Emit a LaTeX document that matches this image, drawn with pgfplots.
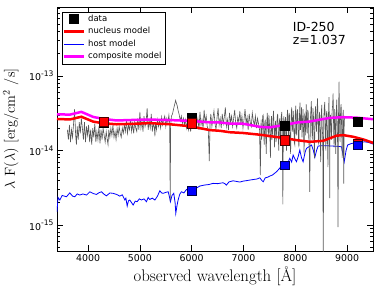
\documentclass[border=0pt]{standalone}
\usepackage{fontspec}
\usepackage{pgfplots}
\pgfplotsset{compat=1.18}
\newfontfamily\dejavu{DejaVu Sans}
\definecolor{specgray}{rgb}{0.34,0.34,0.34}
\definecolor{mag}{rgb}{1,0,1}
\definecolor{pred}{rgb}{1,0,0}
\definecolor{pblue}{rgb}{0,0,1}
\newcommand{\ylab}[1]{10\raisebox{0.85ex}{\fontsize{7.6}{8}\selectfont #1}}
\begin{document}
\begin{tikzpicture}
\useasboundingbox (-57pt,-36pt) rectangle (326pt,251pt);
\begin{axis}[
  at={(0pt,0pt)}, anchor=south west,
  scale only axis, width=316pt, height=244pt,
  xmin=3400, xmax=9500, ymode=log, ymin=0.045, ymax=84,
  xtick={4000,5000,6000,7000,8000,9000},
  xticklabels={4000,5000,6000,7000,8000,9000},
  tick label style={font=\dejavu\fontsize{9.4}{10}\selectfont},
  ytick={0.1,1,10},
  yticklabels={\ylab{-15},\ylab{-14},\ylab{-13}},
  minor ytick={0.05,0.06,0.07,0.08,0.09,0.2,0.3,0.4,0.5,0.6,0.7,0.8,0.9,2,3,4,5,6,7,8,9,20,30,40,50,60,70,80},
  major tick length=6pt, minor tick length=3pt,
  tick style={black, line width=0.6pt},
  axis line style={line width=0.8pt},
  xlabel={observed wavelength [\AA]},
  ylabel={$\lambda$ F($\lambda$) [erg/cm$^{2}$ /s]},
  xlabel style={font=\fontsize{16.8}{18}\selectfont, at={(axis description cs:0.5,-0.123)}, anchor=base},
  ylabel style={font=\fontsize{14.5}{16}\selectfont, at={(axis description cs:-0.133,0.5)}, anchor=base},
  legend style={at={(axis description cs:0.015,0.981)}, anchor=north west, draw=black, line width=0.6pt, fill=white,
    font=\dejavu\fontsize{8.5}{9}\selectfont, inner xsep=0.5pt, inner ysep=1pt, row sep=0pt,
    nodes={inner ysep=2pt, inner xsep=3pt, text height=6.5pt, text depth=2pt}},
  legend cell align=left,
  legend image code/.code={\draw[#1] (0pt,0pt) -- (20pt,0pt);},
]
\addlegendimage{legend image code/.code={\fill[black] (5.4pt,-4.6pt) rectangle (14.6pt,4.6pt);}}
\addlegendentry{data}
\addlegendimage{pred, line width=2.6pt}
\addlegendentry{nucleus model}
\addlegendimage{pblue, line width=0.8pt}
\addlegendentry{host model}
\addlegendimage{mag, line width=2.6pt}
\addlegendentry{composite model}

% host model
\addplot[pblue, line width=0.8pt, forget plot] coordinates {
(3400,0.151)(3420,0.235)(3455,0.217)(3500,0.25)(3583,0.240)(3647,0.271)(3700,0.245)(3743,0.240)(3790,0.262)(3840,0.253)
(3900,0.262)(3970,0.253)(4033,0.280)(4100,0.265)(4162,0.258)(4210,0.272)(4260,0.280)(4300,0.262)(4355,0.247)(4420,0.270)
(4483,0.267)(4550,0.258)(4612,0.245)(4660,0.255)(4710,0.217)(4730,0.230)(4755,0.180)(4780,0.212)(4805,0.217)(4840,0.200)
(4870,0.186)(4910,0.210)(4946,0.206)(4990,0.225)(5030,0.217)(5080,0.225)(5127,0.206)(5160,0.235)(5190,0.221)(5240,0.230)
(5290,0.217)(5340,0.245)(5385,0.289)(5420,0.270)(5450,0.267)(5500,0.275)(5547,0.280)(5570,0.240)(5590,0.206)(5620,0.250)
(5654,0.267)(5680,0.200)(5693,0.144)(5715,0.180)(5738,0.217)(5770,0.260)(5802,0.280)(5850,0.270)(5900,0.301)(5950,0.290)
(6000,0.295)(6080,0.310)(6155,0.334)(6250,0.345)(6330,0.35)(6412,0.363)(6500,0.36)(6606,0.370)(6640,0.36)(6670,0.344)
(6720,0.38)(6800,0.393)(6870,0.385)(6929,0.378)(7000,0.39)(7060,0.395)(7122,0.402)(7200,0.41)(7260,0.415)(7315,0.431)
(7350,0.40)(7380,0.381)(7420,0.43)(7470,0.44)(7508,0.455)(7560,0.47)(7637,0.519)(7700,0.58)(7765,0.673)(7800,0.639)
(7830,0.60)(7870,0.72)(7894,0.786)(7930,0.70)(7958,0.87)(7990,0.78)(8023,0.708)(8060,0.85)(8087,1.015)(8120,0.80)
(8151,0.708)(8190,0.95)(8216,1.07)(8260,1.12)(8313,1.185)(8350,1.0)(8377,0.81)(8410,1.0)(8441,1.15)(8500,1.16)
(8600,1.16)(8700,1.15)(8800,1.14)(8893,1.124)(8920,0.9)(8945,0.708)(8980,1.0)(9010,1.185)(9080,1.24)(9151,1.27)
(9250,1.29)(9344,1.31)(9420,1.28)(9500,1.22)
};

% observed spectrum
\addplot[specgray, line width=0.6pt, forget plot] coordinates {
(3600,1.9)(3620,1.4)(3640,2.2)(3660,1.3)(3680,1.9)(3700,1.5)(3720,2.3)(3740,3.6)(3760,1.6)(3775,1.2)
(3790,2.1)(3810,1.4)(3830,2.4)(3850,1.7)(3870,2.7)(3890,2.0)(3910,1.4)(3930,2.4)(3950,1.3)(3970,2.1)
(3990,1.6)(4010,2.2)(4030,1.3)(4050,1.9)(4070,1.2)(4090,2.0)(4110,1.5)(4130,2.3)(4150,1.3)(4170,1.8)
(4190,1.4)(4210,2.1)(4230,1.25)(4250,1.9)(4270,1.4)(4290,2.0)(4310,1.6)(4330,1.3)(4350,1.8)(4370,1.4)
(4385,1.2)(4400,1.9)(4420,1.5)(4440,2.0)(4460,1.6)(4480,2.2)(4500,1.5)(4520,1.8)(4540,1.4)(4560,2.0)
(4580,1.6)(4600,2.1)(4620,1.7)(4640,1.5)(4660,2.0)(4680,1.7)(4700,2.2)(4720,1.8)(4740,2.5)(4760,1.7)
(4780,2.2)(4800,1.9)(4820,2.6)(4840,1.8)(4860,2.3)(4880,1.7)(4900,2.4)(4920,2.0)(4940,1.8)(4960,2.7)
(4980,1.9)(5000,3.3)(5020,2.0)(5040,2.5)(5060,1.8)(5080,2.9)(5100,2.1)(5120,2.4)(5140,3.7)(5160,1.9)
(5180,2.5)(5200,2.0)(5220,3.1)(5240,1.8)(5260,2.3)(5280,2.0)(5290,1.55)(5300,2.4)(5320,1.9)(5340,2.6)
(5360,2.1)(5380,2.5)(5400,2.0)(5420,2.8)(5440,2.2)(5460,2.6)(5480,2.9)(5500,2.1)(5520,2.7)(5540,2.4)
(5560,3.0)(5575,2.3)(5585,0.21)(5595,2.2)(5610,2.9)(5630,3.1)(5650,3.6)(5670,4.1)(5690,4.7)(5705,4.3)
(5720,4.0)(5740,3.4)(5760,3.0)(5780,2.5)(5800,2.9)(5820,2.3)(5840,2.7)(5860,2.2)(5880,2.6)(5900,2.0)
(5920,2.5)(5940,1.9)(5960,2.4)(5980,1.8)(6000,2.6)(6020,2.1)(6040,2.8)(6060,2.0)(6080,3.0)(6100,2.3)
(6120,2.7)(6140,1.9)(6160,3.3)(6180,2.2)(6200,2.6)(6220,2.0)(6240,3.5)(6260,2.4)(6280,2.9)(6300,2.1)
(6320,1.9)(6340,0.72)(6355,2.4)(6370,3.1)(6390,2.1)(6410,2.7)(6430,3.4)(6450,2.3)(6470,1.9)(6490,2.8)
(6510,3.7)(6530,2.2)(6550,2.7)(6570,2.0)(6590,3.1)(6610,2.3)(6630,2.8)(6650,3.8)(6670,2.1)(6690,2.6)
(6710,1.9)(6730,3.2)(6750,2.4)(6770,2.9)(6790,2.1)(6810,2.7)(6830,3.5)(6850,2.3)(6870,2.0)(6890,2.8)
(6910,2.4)(6930,3.4)(6950,2.2)(6970,2.9)(6990,2.0)(7010,2.6)(7030,3.6)(7050,2.3)(7070,2.8)(7090,1.9)
(7110,3.1)(7130,2.4)(7150,2.1)(7170,3.2)(7190,2.5)(7210,2.2)(7230,2.9)(7250,2.0)(7270,2.7)(7290,2.3)
(7310,1.9)(7325,0.47)(7340,2.6)(7350,1.4)(7360,1.8)(7370,2.9)(7380,3.0)(7390,1.7)(7400,1.2)(7410,2.3)
(7420,2.6)(7430,1.5)(7440,0.9)(7450,2.4)(7460,3.2)(7470,2.0)(7480,1.5)(7490,3.0)(7500,2.4)(7510,1.6)
(7520,0.8)(7530,2.2)(7540,2.9)(7550,1.4)(7560,1.7)(7570,2.7)(7580,3.4)(7590,1.9)(7600,1.1)(7610,2.2)
(7620,2.5)(7630,1.3)(7640,1.9)(7650,2.8)(7660,3.1)(7670,1.8)(7680,1.0)(7690,2.4)(7700,2.7)(7710,1.4)
(7720,1.6)(7730,2.9)(7740,3.3)(7750,1.5)(7760,0.19)(7770,2.2)(7780,2.9)(7790,1.3)(7800,2.0)(7810,2.8)
(7820,1.7)(7830,1.0)(7840,2.6)(7850,3.5)(7860,2.1)(7870,1.6)(7880,3.2)(7890,2.9)(7900,1.4)(7910,0.9)
(7920,2.8)(7930,3.8)(7940,2.2)(7950,1.8)(7960,3.4)(7970,2.5)(7980,1.3)(7990,1.2)(8000,3.1)(8010,4.0)
(8020,1.6)(8030,2.0)(8040,3.6)(8050,3.0)(8060,1.4)(8070,1.1)(8080,2.9)(8090,4.4)(8100,1.9)(8110,2.3)
(8120,3.8)(8130,1.5)(8140,2.4)(8150,3.6)(8160,1.7)(8170,0.9)(8180,3.0)(8190,2.8)(8200,1.6)(8210,4.2)
(8220,2.6)(8230,1.7)(8240,3.5)(8250,3.2)(8260,1.5)(8270,1.0)(8280,0.28)(8290,2.5)(8300,3.4)(8310,4.6)
(8320,1.9)(8330,1.4)(8340,3.7)(8350,3.0)(8360,1.6)(8370,0.8)(8380,2.7)(8390,3.9)(8400,2.2)(8410,1.8)
(8420,3.6)(8430,5.0)(8440,2.1)(8450,1.2)(8460,2.9)(8470,3.3)(8480,1.5)(8490,0.7)(8500,2.8)(8510,4.1)
(8520,2.0)(8530,1.5)(8540,0.03)(8550,2.6)(8560,3.8)(8570,4.5)(8580,1.8)(8590,1.0)(8600,3.1)(8610,3.4)
(8620,1.6)(8630,0.6)(8640,2.9)(8650,5.2)(8660,2.0)(8665,0.23)(8670,2.4)(8680,3.0)(8690,2.2)(8700,1.4)
(8710,3.3)(8720,4.0)(8730,5.85)(8740,2.0)(8750,1.1)(8760,3.6)(8770,2.4)(8780,0.9)(8790,3.0)(8800,4.8)
(8810,2.3)(8815,1.6)(8825,0.094)(8835,3.2)(8845,8.4)(8855,2.1)(8865,1.3)(8875,3.6)(8885,4.2)(8895,1.9)
(8905,0.8)(8915,2.7)(8925,3.5)(8935,0.36)(8945,2.5)(8955,2.8)
};

% composite model
\addplot[mag, line width=2.5pt, forget plot] coordinates {
(3400,3.06)(3650,3.03)(3870,3.30)(4100,2.82)(4290,2.66)(4550,2.53)(4935,2.58)(5190,2.60)(5580,2.56)(5960,2.50)
(6350,2.39)(6540,2.38)(6736,2.30)(6990,2.29)(7315,2.08)(7500,2.04)(7803,2.21)(8023,2.37)(8280,2.45)(8665,2.74)
(8923,2.80)(9180,2.76)(9500,2.63)
};
% nucleus model
\addplot[pred, line width=2.5pt, forget plot] coordinates {
(3400,2.65)(3650,2.61)(3870,2.84)(4100,2.44)(4290,2.32)(4550,2.25)(4935,2.29)(5190,2.33)(5580,2.25)(5960,2.12)
(6350,1.88)(6540,1.84)(6736,1.76)(6990,1.72)(7315,1.63)(7637,1.52)(7803,1.46)(8023,1.38)(8280,1.31)(8537,1.35)
(8795,1.58)(8923,1.61)(9116,1.53)(9310,1.41)(9500,1.27)
};

% data
\addplot[only marks, mark=square*, mark size=4.6pt, mark options={fill=black, draw=black, line width=0.4pt}, forget plot] coordinates {
(4300,2.40)(6000,2.71)(7800,2.13)(9200,2.44)
};
% nucleus model photometry
\addplot[only marks, mark=square*, mark size=4.6pt, mark options={fill=pred, draw=black!70!red, line width=0.4pt}, forget plot] coordinates {
(4300,2.41)(6000,2.32)(7800,1.38)(9200,1.22)
};
% host model photometry
\addplot[only marks, mark=square*, mark size=4.3pt, mark options={fill=pblue, draw=black!70!blue, line width=0.4pt}, forget plot] coordinates {
(6000,0.292)(7800,0.639)(9200,1.185)
};

\node[anchor=base west, inner sep=0pt, font=\dejavu\fontsize{12.5}{13}\selectfont] at (axis description cs:0.746,0.899) {ID-250};
\node[anchor=base west, inner sep=0pt, font=\dejavu\fontsize{12.5}{13}\selectfont] at (axis description cs:0.746,0.846) {z=1.037};
\end{axis}
\end{tikzpicture}
\end{document}
